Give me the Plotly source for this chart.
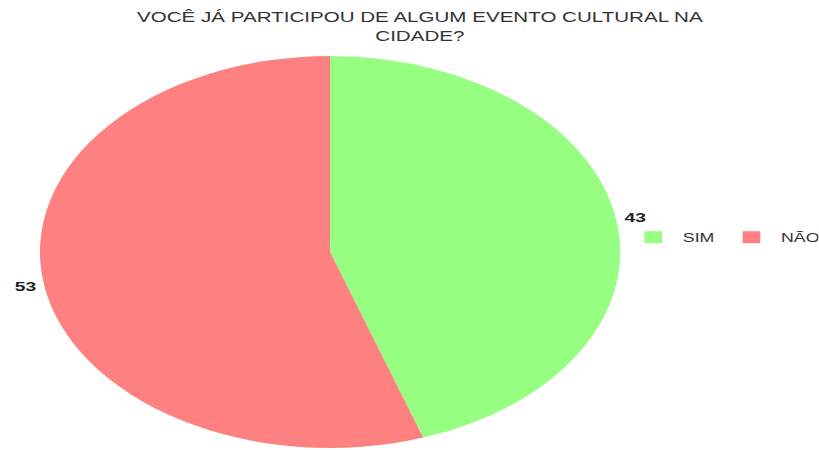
import math
import plotly.graph_objects as go

# dados
categorias = ["SIM", "NÃO"]
valores = [43, 53]
cores = ["#96FF82", "#FF8080"]

titulo = "VOCÊ JÁ PARTICIPOU DE ALGUM EVENTO CULTURAL NA<br>CIDADE?"

# o gráfico original está esticado na horizontal: desenha estreito e estica depois
ESTICA = 1.48
LARG = round(819 / ESTICA)
ALT = 450

# pizza (em px, antes de esticar)
cx, cy, r = 223, 252, 196

fig = go.Figure(go.Pie(
    labels=categorias,
    values=valores,
    sort=False,
    direction="clockwise",
    rotation=0,
    marker=dict(colors=cores, line=dict(width=0)),
    textinfo="none",
    domain=dict(x=[(cx - r) / LARG, (cx + r) / LARG],
                y=[(ALT - cy - r) / ALT, (ALT - cy + r) / ALT]),
    hoverinfo="label+value",
))

# rótulos dos valores, fora de cada fatia
total = sum(valores)
acum = 0
for v in valores:
    ang = 2 * math.pi * (acum + v / 2) / total
    acum += v
    fig.add_annotation(
        x=(cx + 1.065 * r * math.sin(ang)) / LARG,
        y=(ALT - cy + 1.065 * r * math.cos(ang)) / ALT,
        xref="paper", yref="paper", xanchor="center", yanchor="middle",
        showarrow=False,
        text=f"<b>{v}</b>", font=dict(size=13, color="#222"),
    )

fig.update_layout(
    width=LARG, height=ALT,
    margin=dict(l=0, r=0, t=0, b=0, autoexpand=False),
    paper_bgcolor="white",
    font=dict(family="Liberation Sans, Arial, sans-serif", color="#333"),
    title=dict(text=titulo, x=0.513, xanchor="center", y=0.95, yanchor="top",
               font=dict(size=13.9, color="#333")),
    legend=dict(orientation="h", x=0.762, xanchor="left", y=0.473, yanchor="middle",
                itemwidth=30, font=dict(size=12, color="#333")),
)

post = (
    "document.body.style.margin='0';"
    "var d=document.getElementById('{plot_id}');"
    "d.style.transformOrigin='0 0';"
    f"d.style.transform='scaleX({ESTICA})';"
)
fig.write_html("out.html", post_script=post, config={"displayModeBar": False})
